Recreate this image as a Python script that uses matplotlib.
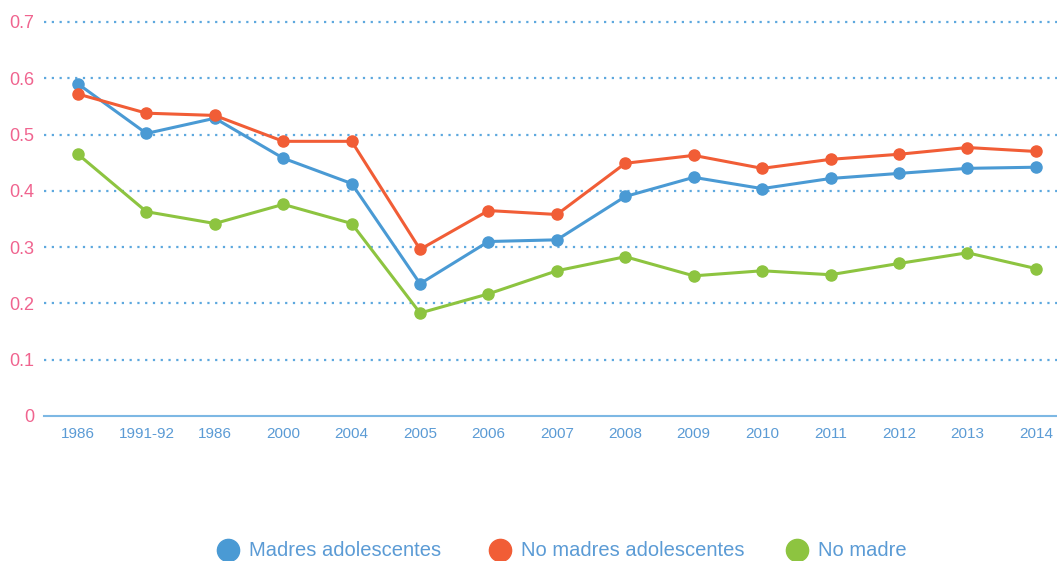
import matplotlib
matplotlib.use("Agg")
import matplotlib.pyplot as plt
from matplotlib.lines import Line2D

categories = ["1986", "1991-92", "1986", "2000", "2004", "2005", "2006", "2007",
              "2008", "2009", "2010", "2011", "2012", "2013", "2014"]
madres_adol = [0.590, 0.502, 0.529, 0.458, 0.413, 0.235, 0.310, 0.313,
               0.390, 0.424, 0.404, 0.422, 0.431, 0.440, 0.442]
no_madres_adol = [0.572, 0.538, 0.534, 0.488, 0.488, 0.296, 0.365, 0.358,
                  0.449, 0.463, 0.440, 0.456, 0.465, 0.477, 0.470]
no_madre = [0.465, 0.363, 0.342, 0.376, 0.342, 0.183, 0.217, 0.258,
            0.283, 0.249, 0.258, 0.251, 0.271, 0.290, 0.262]
y_ticks = [0, 0.1, 0.2, 0.3, 0.4, 0.5, 0.6, 0.7]
y_labels = ["0", "0.1", "0.2", "0.3", "0.4", "0.5", "0.6", "0.7"]
series_names = ["Madres adolescentes", "No madres adolescentes", "No madre"]

colors = ["#4A9AD4", "#F15D36", "#8DC440"]
grid_c = "#5DA8DE"
ytick_c = "#F0648F"
xtick_c = "#5B9BD5"

plt.rcParams['font.family'] = ['Liberation Sans', 'DejaVu Sans']

W, H = 1057, 561
fig = plt.figure(figsize=(W/100, H/100), dpi=100)
ax = fig.add_axes([44/W, 145/H, 1 - 44/W, (416-22)/H])

x = list(range(len(categories)))
for vals, c in zip([madres_adol, no_madres_adol, no_madre], colors):
    ax.plot(x, vals, color=c, lw=2.2, marker="o", ms=8, zorder=3)

ax.set_xlim(-0.497, 14.31)
ax.set_ylim(0, 0.7)
ax.set_yticks(y_ticks)
ax.set_yticklabels(y_labels)
ax.set_xticks(x)
ax.set_xticklabels(categories)

for t in y_ticks[1:]:
    ax.axhline(t, color=grid_c, lw=1.6, ls=(0, (1, 2.5)), zorder=1, clip_on=False)

for s in ["top", "right", "left"]:
    ax.spines[s].set_visible(False)
ax.spines["bottom"].set_color("#7DB8E4")
ax.spines["bottom"].set_linewidth(1.5)

ax.tick_params(axis="y", length=0, pad=7, labelsize=13, labelcolor=ytick_c)
ax.tick_params(axis="x", length=0, pad=8, labelsize=11, labelcolor=xtick_c)

# legend entries placed as in the reference
leg_x = [228, 500, 797]
leg_y = 550
for px, c, name in zip(leg_x, colors, series_names):
    fig.add_artist(Line2D([px/W], [1 - leg_y/H], transform=fig.transFigure,
                          ls="none", marker="o", ms=16, color=c))
    fig.text((px + 21)/W, 1 - leg_y/H, name, color=xtick_c, fontsize=14.5,
             ha="left", va="center")

fig.savefig("out.png", dpi=100)
